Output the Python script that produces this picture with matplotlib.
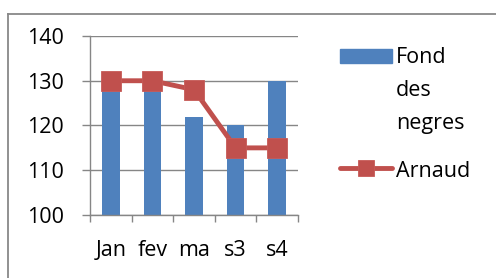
import matplotlib
matplotlib.use("Agg")
import matplotlib.pyplot as plt
from matplotlib.lines import Line2D
from matplotlib.patches import Rectangle

categories = ["Jan", "fev", "ma", "s3", "s4"]
fond_des_negres = [130, 130, 122, 120, 130]
arnaud = [130, 130, 128, 115, 115]
yticks = [100, 110, 120, 130, 140]
series_names = ["Fond des negres", "Arnaud"]

plt.rcParams['font.family'] = ['Open Sans', 'DejaVu Sans']

BLUE = "#4F81BD"
RED = "#C0504D"
FS = 15.5

W, H = 496, 278
fig = plt.figure(figsize=(W/100, H/100), dpi=100)
ax = fig.add_axes([90/W, 1-215/H, (298-90)/W, (215-36)/H])

x = list(range(len(categories)))
ax.bar(x, fond_des_negres, width=0.42, color=BLUE, zorder=2)
ax.plot(x, arnaud, color=RED, lw=3.5, marker="s", markersize=14,
        markerfacecolor=RED, markeredgecolor="#C75A57", markeredgewidth=0.6, zorder=3)

ax.set_ylim(100, 140)
ax.set_xlim(-0.5, 4.5)
ax.set_yticks(yticks)
ax.set_yticklabels([str(v) for v in yticks], fontsize=FS)
ax.yaxis.grid(True, color="#868686", lw=1.0, zorder=0)
ax.set_axisbelow(True)

ax.set_xticks(x)
ax.set_xticklabels(categories, fontsize=FS)
ax.tick_params(axis='x', length=0, pad=18)
ax.set_xticks([i - 0.5 for i in range(len(categories) + 1)], minor=True)
ax.tick_params(axis='x', which='minor', length=5, color="#868686", width=1.0)
ax.tick_params(axis='y', length=6, color="#868686", width=1.0, pad=13)

for s in ["top", "right"]:
    ax.spines[s].set_visible(False)
for s in ["left", "bottom"]:
    ax.spines[s].set_color("#868686")
    ax.spines[s].set_linewidth(1.0)

# manual legend (figure pixel coordinates)
def fx(px):
    return px / W

def fy(py):
    return 1 - py / H

fig.add_artist(Rectangle((fx(340), fy(63)), fx(392) - fx(340), fy(49) - fy(63),
                         transform=fig.transFigure, color=BLUE))
for word, base in zip(series_names[0].split(" "), [63, 96, 129]):
    fig.text(fx(396), fy(base), word, fontsize=FS, ha="left", va="baseline", color="black")
fig.add_artist(Line2D([fx(340), fx(392)], [fy(168), fy(168)], transform=fig.transFigure,
                      color=RED, lw=3.5, solid_capstyle="round"))
fig.add_artist(Line2D([fx(366)], [fy(168)], transform=fig.transFigure, marker="s",
                      markersize=12, color=RED, markeredgecolor="#C75A57", markeredgewidth=0.6))
fig.text(fx(396), fy(177), series_names[1], fontsize=FS, ha="left", va="baseline", color="black")

# outer frame (left and top)
fig.add_artist(Line2D([8/W, 8/W], [0, 1-14/H], transform=fig.transFigure, color="#888888", lw=1.3))
fig.add_artist(Line2D([8/W, 1], [1-14/H, 1-14/H], transform=fig.transFigure, color="#888888", lw=1.3))

fig.savefig("out.png", dpi=100)
